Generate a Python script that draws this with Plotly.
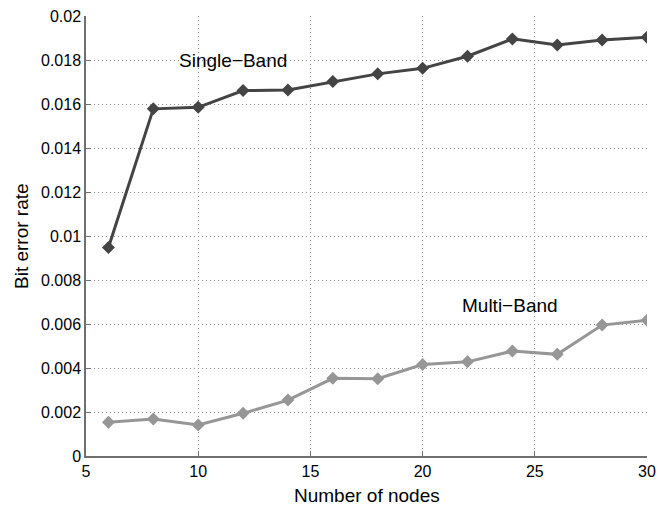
import plotly.graph_objects as go

nodes = [6, 8, 10, 12, 14, 16, 18, 20, 22, 24, 26, 28, 30]
single_band = [0.00948, 0.01578, 0.01585, 0.01661, 0.01664, 0.01702, 0.01737,
               0.01762, 0.01817, 0.01896, 0.01868, 0.01891, 0.01903]
multi_band = [0.00153, 0.00168, 0.00141, 0.00194, 0.00254, 0.00353, 0.00351,
              0.00416, 0.00428, 0.00477, 0.00462, 0.00595, 0.00617]
x_ticks = [5, 10, 15, 20, 25, 30]
y_ticks = [0, 0.002, 0.004, 0.006, 0.008, 0.01, 0.012, 0.014, 0.016, 0.018, 0.02]
y_tick_labels = ["0", "0.002", "0.004", "0.006", "0.008", "0.01", "0.012",
                 "0.014", "0.016", "0.018", "0.02"]

font = "Liberation Sans, Arial, Helvetica, sans-serif"

fig = go.Figure()
fig.add_trace(go.Scatter(x=nodes, y=single_band, mode="lines+markers",
                         line=dict(color="#444444", width=3),
                         marker=dict(symbol="diamond", size=10, color="#444444"),
                         showlegend=False))
fig.add_trace(go.Scatter(x=nodes, y=multi_band, mode="lines+markers",
                         line=dict(color="#969696", width=3),
                         marker=dict(symbol="diamond", size=10, color="#969696"),
                         showlegend=False))

fig.add_annotation(x=11.55, y=0.01797, text="Single\u2212Band", showarrow=False,
                   font=dict(size=19, color="black", family=font))
fig.add_annotation(x=23.9, y=0.00685, text="Multi\u2212Band", showarrow=False,
                   font=dict(size=19, color="black", family=font))

# axis titles placed as annotations for precise positioning
fig.add_annotation(x=0.5, y=0, xref="paper", yref="paper", yanchor="middle",
                   yshift=-39, text="Number of nodes", showarrow=False,
                   font=dict(size=19, color="black", family=font))
fig.add_annotation(x=0, y=0.5, xref="paper", yref="paper", xanchor="center",
                   xshift=-65, textangle=-90, text="Bit error rate", showarrow=False,
                   font=dict(size=19, color="black", family=font))

axis_common = dict(showline=True, linecolor="#707070", linewidth=1.5, mirror=False,
                   ticks="inside", ticklen=5, tickcolor="#707070",
                   showgrid=True, gridcolor="#8c8c8c", griddash="1px,3px", gridwidth=1,
                   zeroline=False, automargin=False, ticklabeloverflow="allow",
                   tickfont=dict(size=16, color="black", family=font))

fig.update_xaxes(range=[5, 30], tickvals=x_ticks, **axis_common)
fig.update_yaxes(range=[0, 0.02], tickvals=y_ticks, ticktext=y_tick_labels, **axis_common)

# page body has an 8px margin; shrink the figure so the plot area lands where the reference has it
fig.update_layout(width=663, height=497, margin=dict(l=78, r=24, t=8, b=49),
                  paper_bgcolor="white", plot_bgcolor="white",
                  font=dict(family=font))

fig.write_html("out.html")
